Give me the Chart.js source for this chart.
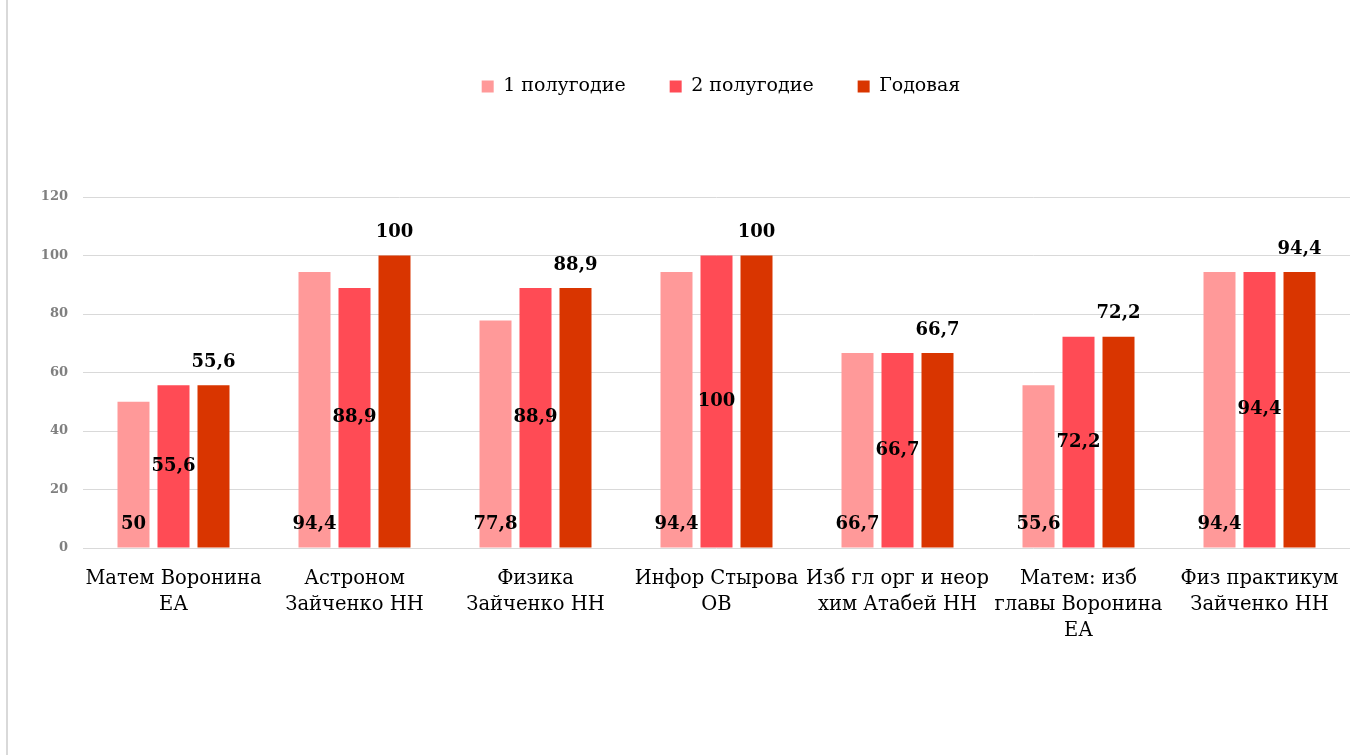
<!DOCTYPE html>
<html>
<head>
<meta charset="utf-8">
<script src="https://cdn.jsdelivr.net/npm/chart.js@4/dist/chart.umd.min.js"></script>
<style>
  html, body { margin: 0; padding: 0; background: #fff; }
  #wrap { position: relative; width: 1363px; height: 755px; }
  #edge { position: absolute; left: 6px; top: 0; width: 2px; height: 755px; background: #d9d9d9; }
</style>
</head>
<body>
<div id="wrap">
  <div id="edge"></div>
  <canvas id="chart" width="1363" height="755"></canvas>
</div>
<script>
const categories = [
  ["Матем Воронина", "ЕА"],
  ["Астроном", "Зайченко НН"],
  ["Физика", "Зайченко НН"],
  ["Инфор Стырова", "ОВ"],
  ["Изб гл орг и неор", "хим Атабей НН"],
  ["Матем: изб", "главы Воронина", "ЕА"],
  ["Физ практикум", "Зайченко НН"]
];
const seriesNames = ["1 полугодие", "2 полугодие", "Годовая"];
const half1 = [50, 94.4, 77.8, 94.4, 66.7, 55.6, 94.4];
const half2 = [55.6, 88.9, 88.9, 100, 66.7, 72.2, 94.4];
const year = [55.6, 100, 88.9, 100, 66.7, 72.2, 94.4];
const yTicks = [0, 20, 40, 60, 80, 100, 120];

const colors = ["#ff9999", "#ff4b55", "#d93500"];
const serif = "'DejaVu Serif', 'Liberation Serif', serif";

// where each series writes its value: at the base, mid-bar, above the bar
const labelPlace = ["base", "center", "end"];

const valueLabels = {
  id: "valueLabels",
  afterDatasetsDraw(chart) {
    const ctx = chart.ctx;
    ctx.save();
    ctx.font = "bold 18px " + serif;
    ctx.fillStyle = "#000";
    ctx.textAlign = "center";
    ctx.textBaseline = "middle";
    chart.data.datasets.forEach((ds, i) => {
      const meta = chart.getDatasetMeta(i);
      meta.data.forEach((bar, j) => {
        const txt = String(ds.data[j]).replace(".", ",");
        let y;
        if (labelPlace[i] === "base") y = bar.base - 23;
        else if (labelPlace[i] === "center") y = (bar.y + bar.base) / 2;
        else y = bar.y - 23;
        ctx.fillText(txt, bar.x, y);
      });
    });
    ctx.restore();
  }
};

// legend box: fixed height, legend row nudged right like the original
const legendBox = {
  id: "legendBox",
  afterInit(chart) {
    const lg = chart.legend;
    const fit = lg.fit;
    lg.fit = function () {
      fit.call(this);
      this.height = 164;
    };
  },
  afterLayout(chart) {
    chart.legend.left += 92;
  }
};

new Chart(document.getElementById("chart"), {
  type: "bar",
  data: {
    labels: categories,
    datasets: [half1, half2, year].map((d, i) => ({
      label: seriesNames[i],
      data: d,
      backgroundColor: colors[i],
      borderWidth: 0,
      categoryPercentage: 0.663,
      barPercentage: 0.8
    }))
  },
  options: {
    responsive: false,
    animation: false,
    layout: { padding: { top: 33, right: 13, left: 0, bottom: 0 } },
    plugins: {
      tooltip: { enabled: false },
      legend: {
        position: "top",
        labels: {
          boxWidth: 12,
          boxHeight: 12,
          padding: 44,
          color: "#000",
          font: { family: serif, size: 19 }
        }
      }
    },
    scales: {
      x: {
        grid: { display: false },
        border: { display: false },
        ticks: {
          color: "#000",
          padding: 10,
          maxRotation: 0,
          autoSkip: false,
          font: { family: serif, size: 19.5, lineHeight: 1.33 }
        },
        afterFit(scale) { scale.height = 207; }
      },
      y: {
        min: 0,
        max: 120,
        afterBuildTicks(scale) { scale.ticks = yTicks.map(v => ({ value: v })); },
        grid: { color: "#d9d9d9", lineWidth: 1, drawTicks: false },
        border: { display: false },
        ticks: {
          color: "#7f7f7f",
          padding: 15,
          font: { family: serif, size: 13, weight: "bold" }
        },
        afterFit(scale) { scale.width = 83; }
      }
    }
  },
  plugins: [valueLabels, legendBox]
});
</script>
</body>
</html>
